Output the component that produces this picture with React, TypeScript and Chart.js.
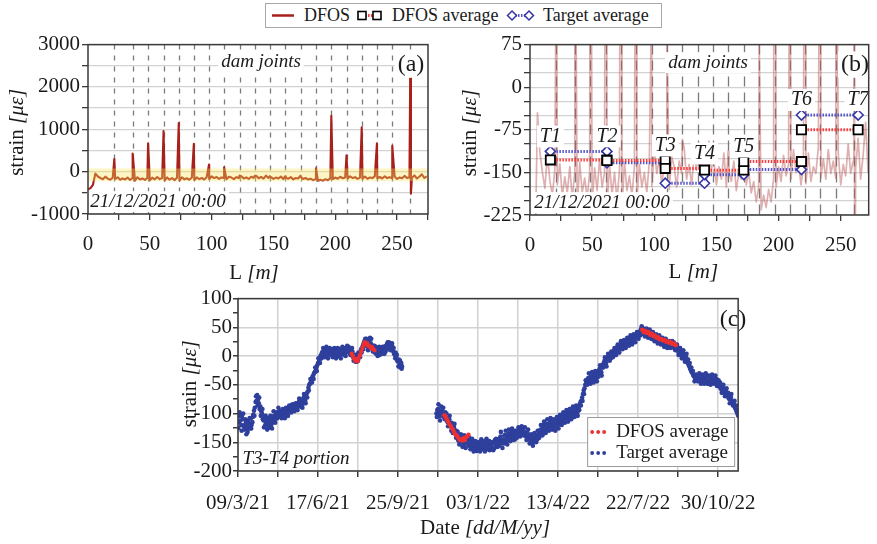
import React, { useEffect, useRef } from 'react';
import { Chart, registerables } from 'chart.js';

Chart.register(...registerables);

const SERIF = '"Liberation Serif", "Times New Roman", Times, serif';
const INK = '#1a1a1a';

// ---------------- Panels (a) and (b): DFOS strain profile along L [m] ----------------
const dfosProfile: [number, number][] = [
  [0, -420], [2, -390], [4, -310], [6, -45], [8, -115], [10, -150], [12, -178], [14, -118], [16, -165], [18, -190],
  [20, -145], [22, -172], [24, -135], [26, -192], [28, -158], [30, -186], [32, -140], [34, -196], [36, -150], [38, -212],
  [40, -132], [42, -186], [44, -160], [46, -195], [48, -150], [50, -205], [52, -142], [54, -182], [56, -126], [58, -176],
  [60, -150], [62, -210], [64, -136], [66, -190], [68, -150], [70, -200], [72, -145], [74, -215], [76, -132], [78, -182],
  [80, -156], [82, -192], [84, -140], [86, -198], [88, -136], [90, -176], [92, -150], [94, -186], [96, -130], [98, -175],
  [100, -110], [102, -152], [104, -126], [106, -172], [108, -136], [110, -150], [112, -180], [114, -122], [116, -140], [118, -176],
  [120, -130], [122, -152], [124, -106], [126, -162], [128, -136], [130, -172], [132, -120], [134, -146], [136, -98], [138, -156],
  [140, -126], [142, -166], [144, -95], [146, -150], [148, -130], [150, -172], [152, -140], [154, -162], [156, -116], [158, -176],
  [160, -146], [162, -166], [164, -130], [166, -182], [168, -150], [170, -162], [172, -120], [174, -172], [176, -150], [178, -186],
  [180, -166], [182, -202], [184, -176], [186, -216], [188, -190], [190, -212], [192, -180], [194, -202], [196, -160], [198, -176],
  [200, -140], [202, -166], [204, -120], [206, -156], [208, -136], [210, -162], [212, -110], [214, -150], [216, -130], [218, -172],
  [220, -140], [222, -170], [224, -116], [226, -166], [228, -140], [230, -152], [232, -105], [234, -160], [236, -126], [238, -162],
  [240, -110], [242, -152], [244, -130], [246, -160], [248, -116], [250, -172], [252, -136], [254, -156], [256, -100], [258, -152],
  [260, -130], [262, -142], [264, -90], [266, -162], [268, -120], [270, -62], [272, -150], [274, -110],
];
const dfosSpikes: [number, number][] = [
  [21.3, 300], [36.1, 430], [48.6, 670], [61.1, 960], [73.4, 1150], [85.6, 655], [97.9, 170], [110.1, 100],
  [122.6, -92], [134.8, -100], [147.1, -108], [159.4, -112], [171.9, -98], [184.4, 80], [196.8, 1320], [209.1, 385],
  [221.4, 1050], [233.7, 670], [246.1, 610], [260.6, 2290], [261.2, -520],
];
const jointL = [21.3, 36.1, 48.6, 61.1, 73.4, 85.6, 97.9, 110.1, 122.6, 134.8, 147.1, 159.4, 171.9, 184.4, 196.8, 209.1, 221.4, 233.7, 246.1, 260.6];

// Panel (b): targets and segment averages
const tNames = ['T1', 'T2', 'T3', 'T4', 'T5', 'T6', 'T7'];
const tPos = [16.4, 61.9, 108.8, 140.4, 172.0, 218.4, 264.0];
const dfosAvgStrain = [-128, -129, -143, -146, -131, -75];
const targetAvgStrain = [-113, -133, -169, -154, -145, -49];

// ---------------- Panel (c): T3-T4 portion time series ----------------
// [day after 09/3/21, reading at day, reading a day later, reading half a day later]
const dateTickDays = [0, 100, 200, 300, 400, 500, 600];
const dateTickLabels = ['09/3/21', '17/6/21', '25/9/21', '03/1/22', '13/4/22', '22/7/22', '30/10/22'];

const targetSeg1: [number, number, number, number][] = [
  [0, -105, -115, -125], [2, -98, -112, -104], [4, -120, -104, -130], [6, -110, -122, -100], [8, -128, -110, -120], [10, -115, -125, -136],
  [12, -132, -112, -122], [14, -118, -126, -108], [16, -108, -120, -126], [18, -115, -102, -106], [20, -95, -90, -104], [22, -80, -78, -70],
  [24, -68, -76, -86], [26, -82, -92, -72], [28, -88, -96, -104], [30, -100, -110, -92], [32, -112, -106, -124], [34, -120, -114, -104],
  [36, -108, -118, -128], [38, -125, -108, -116], [40, -112, -122, -104], [42, -118, -110, -126], [44, -105, -114, -96], [46, -110, -102, -116],
  [48, -98, -108, -108], [50, -104, -98, -90], [52, -95, -106, -100], [54, -102, -96, -108], [56, -92, -104, -98], [58, -100, -94, -108],
  [60, -90, -100, -98], [62, -96, -90, -104], [64, -86, -96, -92], [66, -92, -86, -98], [68, -84, -94, -90], [70, -90, -84, -96],
  [72, -82, -92, -88], [74, -88, -82, -94], [76, -80, -86, -74], [78, -76, -80, -88], [80, -84, -76, -90], [82, -72, -82, -66],
  [84, -78, -70, -82], [86, -65, -62, -72], [88, -55, -50, -60], [90, -48, -46, -40], [92, -40, -36, -46], [94, -34, -30, -40],
  [96, -28, -26, -20], [98, -20, -16, -26], [100, -12, -10, -4], [102, -6, 0, -12], [104, 2, 6, -4], [106, 8, 0, 14],
  [108, 4, 12, -2], [110, 10, 4, 16], [112, 2, 10, -4], [114, 8, 4, 14], [116, 12, 8, 2], [118, 4, 12, -2],
  [120, 8, 2, 14], [122, 0, 10, -4], [124, 6, 2, 14], [126, 12, 6, 0], [128, 3, 12, -4], [130, 9, 4, 16],
  [132, 14, 10, 2], [134, 6, 14, 0], [136, 12, 8, 18], [138, 16, 12, 6], [140, 8, 14, 2], [142, 4, 8, 14],
  [144, -2, 2, -8], [146, -6, -10, 2], [148, -3, 0, -10], [150, -8, -2, 6], [152, 4, 6, -2], [154, 12, 14, 6],
  [156, 18, 22, 12], [158, 26, 30, 18], [160, 20, 24, 30], [162, 16, 22, 10], [164, 28, 32, 20], [166, 22, 18, 30],
  [168, 14, 18, 8], [170, 10, 6, 18], [172, 16, 12, 4], [174, 6, 14, 0], [176, 10, 2, 16], [178, 4, 8, 14],
  [180, 12, 16, 4], [182, 8, 4, 16], [184, 14, 18, 8], [186, 20, 24, 14], [188, 16, 12, 24], [190, 22, 18, 10],
  [192, 12, 16, 22], [194, 8, 4, 14], [196, 2, 6, -4], [198, -4, -8, 2], [200, -10, -6, -18], [202, -16, -20, -8],
  [204, -12, -18, -22],
];
const targetSeg2: [number, number, number, number][] = [
  [248, -100, -94, -106], [250, -92, -100, -84], [252, -105, -96, -112], [254, -88, -95, -100], [256, -98, -106, -90], [258, -102, -98, -110],
  [260, -108, -112, -100], [262, -115, -108, -122], [264, -110, -118, -104], [266, -122, -116, -130], [268, -128, -122, -134], [270, -125, -132, -118],
  [272, -135, -130, -142], [274, -140, -146, -132], [276, -148, -140, -154], [278, -142, -150, -136], [280, -150, -144, -158], [282, -145, -154, -138],
  [284, -152, -146, -160], [286, -140, -150, -146], [288, -148, -142, -156], [290, -155, -148, -162], [292, -150, -158, -144], [294, -160, -152, -166],
  [296, -155, -162, -148], [298, -165, -158, -150], [300, -150, -156, -164], [302, -158, -150, -166], [304, -145, -152, -160], [306, -155, -162, -148],
  [308, -160, -154, -166], [310, -150, -158, -144], [312, -162, -155, -148], [314, -148, -156, -164], [316, -155, -150, -162], [318, -160, -164, -150],
  [320, -152, -146, -160], [322, -158, -152, -144], [324, -145, -152, -158], [326, -150, -144, -156], [328, -140, -148, -132], [330, -152, -146, -160],
  [332, -145, -138, -152], [334, -138, -146, -130], [336, -148, -140, -154], [338, -135, -142, -128], [340, -142, -136, -148], [342, -132, -140, -126],
  [344, -140, -134, -146], [346, -145, -138, -130], [348, -130, -136, -142], [350, -138, -131, -124], [352, -128, -134, -140], [354, -135, -128, -122],
  [356, -125, -132, -138], [358, -132, -138, -124], [360, -140, -134, -146], [362, -135, -142, -128], [364, -145, -140, -152], [366, -150, -144, -136],
  [368, -142, -150, -156], [370, -148, -141, -134], [372, -138, -145, -150], [374, -145, -138, -130], [376, -135, -130, -142], [378, -128, -136, -120],
  [380, -132, -125, -138], [382, -120, -127, -114], [384, -128, -121, -134], [386, -118, -124, -110], [388, -125, -118, -130], [390, -115, -121, -108],
  [392, -122, -115, -128], [394, -118, -124, -110], [396, -125, -117, -130], [398, -112, -119, -106], [400, -120, -113, -126], [402, -108, -115, -102],
  [404, -115, -108, -120], [406, -105, -112, -98], [408, -110, -103, -116], [410, -100, -107, -94], [412, -108, -101, -114], [414, -98, -104, -92],
  [416, -105, -98, -110], [418, -95, -102, -88], [420, -100, -94, -106], [422, -92, -99, -86], [424, -98, -90, -104], [426, -88, -84, -94],
  [428, -80, -78, -86], [430, -72, -66, -78], [432, -60, -56, -66], [434, -50, -48, -42], [436, -45, -40, -50], [438, -38, -44, -30],
  [440, -42, -36, -48], [442, -35, -42, -28], [444, -40, -34, -46], [446, -32, -39, -26], [448, -38, -32, -44], [450, -30, -25, -36],
  [452, -22, -29, -16], [454, -28, -20, -34], [456, -15, -12, -20], [458, -8, -14, -2], [460, -12, -5, -18], [462, -2, -6, 4],
  [464, 2, 0, -8], [466, -4, 4, 8], [468, 6, 2, -2], [470, 10, 4, 14], [472, 8, 14, 2], [474, 16, 10, 20],
  [476, 12, 18, 6], [478, 20, 14, 26], [480, 18, 24, 12], [482, 24, 18, 28], [484, 20, 26, 14], [486, 28, 22, 32],
  [488, 25, 31, 18], [490, 30, 24, 36], [492, 26, 32, 20], [494, 34, 28, 38], [496, 30, 36, 24], [498, 38, 32, 42],
  [500, 35, 40, 30], [502, 42, 45, 36], [504, 48, 43, 52], [506, 44, 38, 48], [508, 40, 46, 34], [510, 45, 40, 48],
  [512, 38, 44, 32], [514, 42, 36, 46], [516, 35, 40, 30], [518, 38, 32, 42], [520, 30, 36, 26], [522, 34, 28, 38],
  [524, 28, 33, 22], [526, 32, 26, 36], [528, 24, 30, 20], [530, 28, 22, 32], [532, 22, 27, 16], [534, 25, 20, 30],
  [536, 18, 24, 14], [538, 22, 17, 26], [540, 24, 19, 14], [542, 18, 23, 26], [544, 20, 14, 24], [546, 15, 18, 10],
  [548, 12, 16, 20], [550, 8, 12, 2], [552, 10, 4, 14], [554, 2, 7, -4], [556, 5, 0, 10], [558, -5, -1, -10],
  [560, -2, -8, 4], [562, -12, -15, -6], [564, -18, -22, -12], [566, -25, -28, -20], [568, -30, -34, -26], [570, -35, -38, -44],
  [572, -40, -36, -32], [574, -34, -40, -44], [576, -42, -36, -30], [578, -36, -42, -48], [580, -45, -40, -32], [582, -38, -44, -48],
  [584, -42, -36, -30], [586, -35, -43, -48], [588, -48, -42, -34], [590, -40, -46, -50], [592, -44, -38, -32], [594, -36, -42, -48],
  [596, -46, -40, -34], [598, -40, -45, -52], [600, -48, -50, -42], [602, -52, -56, -46], [604, -58, -54, -64], [606, -55, -60, -50],
  [608, -65, -60, -70], [610, -62, -68, -56], [612, -70, -73, -64], [614, -75, -70, -82], [616, -72, -78, -66], [618, -80, -84, -86],
  [620, -85, -90, -78], [622, -92, -96, -86], [624, -100, -104, -94],
];
const dfosAvgSeg1: [number, number][] = [
  [142, 4], [143.5, 0], [145, -4], [146.5, -8], [148, -6], [149.5, -9], [151, -3], [152.5, 2], [154, 8], [155.5, 14],
  [157, 20], [158.5, 24], [160, 20], [161.5, 22], [163, 18], [164.5, 17], [166, 14], [167.5, 16], [169, 12], [170.5, 10],
];
const dfosAvgSeg2: [number, number][] = [
  [258, -103], [259.5, -106], [261, -110], [262.5, -114], [264, -118], [265.5, -121], [267, -125], [268.5, -128], [270, -132], [271.5, -136],
  [273, -138], [274.5, -141], [276, -144], [277.5, -146], [279, -145], [280.5, -147], [282, -143], [283.5, -146], [285, -141], [286.5, -139], [288, -137],
];
const dfosAvgSeg3: [number, number][] = [
  [505, 46], [507, 42], [509, 44], [511, 40], [513, 42], [515, 37], [517, 39], [519, 35], [521, 36], [523, 32], [525, 33],
  [527, 29], [529, 30], [531, 27], [533, 28], [535, 25], [537, 26], [539, 23], [541, 24], [543, 21], [545, 22], [547, 19],
];

// ---------------- helpers ----------------
const toXY = (arr: [number, number][]) => arr.map(([x, y]) => ({ x, y }));
const dailyXY = (arr: [number, number, number, number][]) =>
  arr.flatMap(([d, a, b, c]) => [{ x: d, y: a }, { x: d + 0.5, y: c }, { x: d + 1, y: b }]);
const dfosPoints = () => toXY([...dfosProfile, ...dfosSpikes].sort((a, b) => a[0] - b[0]));

function segmentData(vals: number[]) {
  const out: { x: number; y: number | null }[] = [];
  vals.forEach((v, i) => {
    if (i > 0) out.push({ x: tPos[i], y: null });
    out.push({ x: tPos[i], y: v }, { x: tPos[i + 1], y: v });
  });
  return out;
}

type Txt = { text: string; cx: number; cy: number; size: number; italic?: boolean; box?: boolean };
type Part = [string, boolean];

function font(size: number, italic?: boolean) {
  return `${italic ? 'italic ' : ''}${size}px ${SERIF}`;
}

function drawText(ctx: CanvasRenderingContext2D, t: Txt, x: number, y: number) {
  ctx.save();
  ctx.font = font(t.size, t.italic);
  ctx.textAlign = 'center';
  ctx.textBaseline = 'middle';
  if (t.box) {
    const w = ctx.measureText(t.text).width;
    ctx.fillStyle = '#ffffff';
    ctx.fillRect(x - w / 2 - 3, y - t.size * 0.55, w + 6, t.size * 1.1);
  }
  ctx.fillStyle = INK;
  ctx.fillText(t.text, x, y);
  ctx.restore();
}

function drawTitle(ctx: CanvasRenderingContext2D, parts: Part[], cx: number, cy: number, size: number, vertical: boolean) {
  ctx.save();
  ctx.translate(cx, cy);
  if (vertical) ctx.rotate(-Math.PI / 2);
  ctx.textBaseline = 'middle';
  ctx.textAlign = 'left';
  const widths = parts.map(([s, it]) => {
    ctx.font = font(size, it);
    return ctx.measureText(s).width;
  });
  const total = widths.reduce((a, b) => a + b, 0);
  let x = -total / 2;
  parts.forEach(([s, it], i) => {
    ctx.font = font(size, it);
    ctx.fillStyle = INK;
    ctx.fillText(s, x, 0);
    x += widths[i];
  });
  ctx.restore();
}

interface PanelCfg {
  jointDash?: number[];
  band?: [number, number];
  texts: Txt[];
  yTitle: { parts: Part[]; dx: number; dy: number };
  xTitle: { parts: Part[]; dx: number; dy: number };
  tLabels?: boolean;
  legendC?: boolean;
}

function panelPlugin(cfg: PanelCfg) {
  return {
    id: 'panelDecor',
    beforeDatasetsDraw(chart: any) {
      if (!cfg.jointDash) return;
      const { ctx, chartArea: a } = chart;
      const xs = chart.scales.x;
      ctx.save();
      ctx.strokeStyle = '#7a7a7a';
      ctx.lineWidth = 1.3;
      ctx.setLineDash(cfg.jointDash);
      jointL.forEach((j) => {
        const x = Math.round(xs.getPixelForValue(j)) + 0.5;
        if (x < a.left || x > a.right) return;
        ctx.beginPath();
        ctx.moveTo(x, a.top);
        ctx.lineTo(x, a.bottom);
        ctx.stroke();
      });
      ctx.restore();
    },
    afterDatasetsDraw(chart: any) {
      const { ctx, chartArea: a } = chart;
      const xs = chart.scales.x;
      const ys = chart.scales.y;
      if (cfg.band) {
        const y1 = ys.getPixelForValue(cfg.band[1]);
        const y0 = ys.getPixelForValue(cfg.band[0]);
        ctx.save();
        ctx.fillStyle = 'rgba(250,228,90,0.36)';
        ctx.fillRect(a.left, y1, a.right - a.left, y0 - y1);
        ctx.restore();
      }
      cfg.texts.forEach((t) => drawText(ctx, t, a.left + t.cx, a.top + t.cy));
      if (cfg.tLabels) {
        tNames.forEach((name, i) => {
          const cands: number[] = [];
          if (i < dfosAvgStrain.length) cands.push(dfosAvgStrain[i], targetAvgStrain[i]);
          if (i > 0) cands.push(dfosAvgStrain[i - 1], targetAvgStrain[i - 1]);
          const top = Math.max(...cands);
          const x = xs.getPixelForValue(tPos[i]);
          const y = ys.getPixelForValue(top) - 15;
          drawText(ctx, { text: name, cx: 0, cy: 0, size: 20, italic: true, box: true }, x, y);
        });
      }
      if (cfg.legendC) {
        const L = a.right - 151;
        const T = a.bottom - 54;
        ctx.save();
        ctx.fillStyle = '#ffffff';
        ctx.fillRect(L, T, 147, 49);
        ctx.strokeStyle = '#9a9a9a';
        ctx.lineWidth = 1;
        ctx.strokeRect(L + 0.5, T + 0.5, 147, 49);
        const rows: [string, string, number][] = [
          ['DFOS average', '#ee3030', 15],
          ['Target average', '#2e3f9c', 36],
        ];
        rows.forEach(([label, col, dy]) => {
          ctx.fillStyle = col;
          [4, 10, 16].forEach((dx) => {
            ctx.beginPath();
            ctx.arc(L + dx + 1, T + dy, 1.9, 0, Math.PI * 2);
            ctx.fill();
          });
          ctx.fillStyle = INK;
          ctx.font = font(19);
          ctx.textAlign = 'left';
          ctx.textBaseline = 'middle';
          ctx.fillText(label, L + 29, T + dy);
        });
        ctx.restore();
      }
    },
    afterDraw(chart: any) {
      const { ctx, chartArea: a } = chart;
      ctx.save();
      ctx.strokeStyle = '#3a3a3a';
      ctx.lineWidth = 1.5;
      ctx.strokeRect(a.left, a.top, a.right - a.left, a.bottom - a.top);
      ctx.restore();
      const cx = (a.left + a.right) / 2;
      const cy = (a.top + a.bottom) / 2;
      drawTitle(ctx, cfg.yTitle.parts, a.left + cfg.yTitle.dx, cy + cfg.yTitle.dy, 21, true);
      drawTitle(ctx, cfg.xTitle.parts, cx + cfg.xTitle.dx, a.bottom + cfg.xTitle.dy, 21, false);
    },
  };
}

const tickFont = { family: SERIF, size: 21 };
const strainTitle: Part[] = [['strain ', false], ['[\u03bc\u03b5]', true]];
const lTitle: Part[] = [['L ', false], ['[m]', true]];

function lAxis(max: number, height: number, padding: number) {
  return {
    type: 'linear',
    min: 0,
    max,
    afterFit: (s: any) => { s.height = height; },
    border: { display: false },
    grid: { drawOnChartArea: false, color: '#3a3a3a', tickLength: 6, lineWidth: 1.3 },
    ticks: {
      stepSize: 25,
      includeBounds: false,
      autoSkip: false,
      maxRotation: 0,
      minRotation: 0,
      padding,
      font: tickFont,
      color: INK,
      callback: (v: number) => (v % 50 === 0 ? String(v) : ''),
    },
  };
}

function configA(): any {
  return {
    type: 'line',
    data: {
      datasets: [
        { data: dfosPoints(), borderColor: '#a8201a', borderWidth: 2.1, pointRadius: 0, borderJoinStyle: 'round', tension: 0 },
      ],
    },
    options: {
      animation: false,
      responsive: false,
      devicePixelRatio: 1,
      layout: { padding: { top: 14, right: 7, left: 0, bottom: 0 } },
      plugins: { legend: { display: false }, tooltip: { enabled: false } },
      scales: {
        x: lAxis(275, 78, 12),
        y: {
          min: -1000,
          max: 3000,
          afterFit: (s: any) => { s.width = 88; },
          border: { display: false },
          grid: { color: '#d2d2d2', tickColor: '#3a3a3a', tickLength: 6, lineWidth: 1.3 },
          ticks: { stepSize: 500, padding: 2, font: tickFont, color: INK, autoSkip: false, callback: (v: number) => (v % 1000 === 0 ? String(v) : '') },
        },
      },
    },
    plugins: [
      panelPlugin({
        jointDash: [5, 6],
        band: [-225, 75],
        texts: [
          { text: 'dam joints', cx: 173, cy: 17, size: 19, italic: true, box: true },
          { text: '(a)', cx: 323, cy: 20, size: 24, box: true },
          { text: '21/12/2021 00:00', cx: 70, cy: 157, size: 19, italic: true, box: true },
        ],
        yTitle: { parts: strainTitle, dx: -71, dy: 3 },
        xTitle: { parts: lTitle, dx: -4, dy: 59 },
      }),
    ],
  };
}

function configB(): any {
  return {
    type: 'line',
    data: {
      datasets: [
        {
          data: segmentData(dfosAvgStrain),
          borderColor: '#ff3a3a',
          borderWidth: 3,
          borderDash: [1.5, 1.5],
          pointStyle: 'rect',
          pointRadius: 6.5,
          pointBorderColor: '#000000',
          pointBackgroundColor: '#ffffff',
          pointBorderWidth: 1.8,
          spanGaps: false,
        },
        {
          data: segmentData(targetAvgStrain),
          borderColor: '#5656cc',
          borderWidth: 3,
          borderDash: [1.5, 1.5],
          pointStyle: 'rectRot',
          pointRadius: 5,
          pointBorderColor: '#3535a8',
          pointBackgroundColor: '#ffffff',
          pointBorderWidth: 1.6,
          spanGaps: false,
        },
        { data: dfosPoints(), borderColor: 'rgba(185,90,90,0.48)', borderWidth: 1.7, pointRadius: 0, borderJoinStyle: 'round', tension: 0 },
      ],
    },
    options: {
      animation: false,
      responsive: false,
      devicePixelRatio: 1,
      layout: { padding: { top: 13, right: 2, left: 0, bottom: 0 } },
      plugins: { legend: { display: false }, tooltip: { enabled: false } },
      scales: {
        x: lAxis(272.5, 77, 12),
        y: {
          min: -225,
          max: 75,
          afterFit: (s: any) => { s.width = 90; },
          border: { display: false },
          grid: { color: '#d2d2d2', tickColor: '#3a3a3a', tickLength: 6, lineWidth: 1.3 },
          ticks: { stepSize: 25, padding: 2, font: tickFont, color: INK, autoSkip: false, callback: (v: number) => (v % 75 === 0 ? String(v) : '') },
        },
      },
    },
    plugins: [
      panelPlugin({
        jointDash: [10, 6],
        texts: [
          { text: 'dam joints', cx: 178, cy: 18, size: 19, italic: true, box: true },
          { text: '(b)', cx: 325, cy: 20, size: 24, box: true },
          { text: '21/12/2021 00:00', cx: 72, cy: 158, size: 19, italic: true, box: true },
        ],
        yTitle: { parts: strainTitle, dx: -60, dy: 3 },
        xTitle: { parts: lTitle, dx: -6, dy: 57 },
        tLabels: true,
      }),
    ],
  };
}

function configC(): any {
  return {
    type: 'scatter',
    data: {
      datasets: [
        { data: toXY([...dfosAvgSeg1, ...dfosAvgSeg2, ...dfosAvgSeg3]), backgroundColor: '#ee3030', pointRadius: 2.2, pointBorderWidth: 0 },
        { data: [...dailyXY(targetSeg1), ...dailyXY(targetSeg2)], backgroundColor: '#2e3f9c', pointRadius: 2.3, pointBorderWidth: 0 },
      ],
    },
    options: {
      animation: false,
      responsive: false,
      devicePixelRatio: 1,
      layout: { padding: { top: 12, right: 13, left: 0, bottom: 0 } },
      plugins: { legend: { display: false }, tooltip: { enabled: false } },
      scales: {
        x: {
          type: 'linear',
          min: 0,
          max: 625,
          afterFit: (s: any) => { s.height = 73; },
          border: { display: false },
          grid: { color: '#d2d2d2', tickColor: '#3a3a3a', tickLength: 6, lineWidth: 1.5 },
          ticks: {
            stepSize: 50,
            includeBounds: false,
            autoSkip: false,
            maxRotation: 0,
            minRotation: 0,
            padding: 14,
            font: tickFont,
            color: INK,
            callback: (v: number) => {
              const i = dateTickDays.indexOf(v);
              return i >= 0 ? dateTickLabels[i] : '';
            },
          },
        },
        y: {
          min: -200,
          max: 100,
          afterFit: (s: any) => { s.width = 88; },
          border: { display: false },
          grid: {
            color: (c: any) => (c.tick && c.tick.value % 50 === 0 ? '#d2d2d2' : 'rgba(0,0,0,0)'),
            tickColor: '#3a3a3a',
            tickLength: 5,
            lineWidth: 1.5,
          },
          ticks: { stepSize: 25, padding: 1, font: tickFont, color: INK, autoSkip: false, callback: (v: number) => (v % 50 === 0 ? String(v) : '') },
        },
      },
    },
    plugins: [
      panelPlugin({
        texts: [
          { text: '(c)', cx: 495, cy: 21, size: 24 },
          { text: 'T3-T4 portion', cx: 58, cy: 160, size: 19, italic: true },
        ],
        yTitle: { parts: strainTitle, dx: -48, dy: -1 },
        xTitle: { parts: [['Date ', false], ['[dd/M/yy]', true]], dx: -3, dy: 57 },
        legendC: true,
      }),
    ],
  };
}

function TopLegend() {
  const txt: React.CSSProperties = {
    position: 'absolute',
    top: 0,
    fontFamily: SERIF,
    fontSize: 18,
    lineHeight: '23px',
    color: INK,
    whiteSpace: 'nowrap',
  };
  const diamond = (cx: number, cy: number) => `${cx},${cy - 4.5} ${cx + 4.5},${cy} ${cx},${cy + 4.5} ${cx - 4.5},${cy}`;
  return (
    <div style={{ position: 'absolute', left: 265, top: 3, width: 395, height: 23, border: '1px solid #a8a8a8', background: '#fff' }}>
      <svg style={{ position: 'absolute', left: 0, top: 0 }} width={395} height={23}>
        <line x1={6} y1={11.5} x2={28} y2={11.5} stroke="#a8201a" strokeWidth={2.5} />
        <line x1={96} y1={11.5} x2={111} y2={11.5} stroke="#ff3a3a" strokeWidth={3} strokeDasharray="1.5 1.5" />
        <rect x={92} y={7.5} width={8} height={8} fill="#fff" stroke="#000" strokeWidth={1.6} />
        <rect x={107} y={7.5} width={8} height={8} fill="#fff" stroke="#000" strokeWidth={1.6} />
        <line x1={246} y1={11.5} x2={263} y2={11.5} stroke="#5656cc" strokeWidth={3} strokeDasharray="1.5 1.5" />
        <polygon points={diamond(246, 11.5)} fill="#fff" stroke="#3535a8" strokeWidth={1.5} />
        <polygon points={diamond(263, 11.5)} fill="#fff" stroke="#3535a8" strokeWidth={1.5} />
      </svg>
      <span style={{ ...txt, left: 38 }}>DFOS</span>
      <span style={{ ...txt, left: 126 }}>DFOS average</span>
      <span style={{ ...txt, left: 277 }}>Target average</span>
    </div>
  );
}

export default function App() {
  const refA = useRef<HTMLCanvasElement>(null);
  const refB = useRef<HTMLCanvasElement>(null);
  const refC = useRef<HTMLCanvasElement>(null);

  useEffect(() => {
    Chart.defaults.font.family = SERIF;
    const charts = [
      new Chart(refA.current as HTMLCanvasElement, configA()),
      new Chart(refB.current as HTMLCanvasElement, configB()),
      new Chart(refC.current as HTMLCanvasElement, configC()),
    ];
    return () => charts.forEach((c) => c.destroy());
  }, []);

  return (
    <div style={{ position: 'fixed', left: 0, top: 0, width: 877, height: 544, background: '#ffffff', overflow: 'hidden' }}>
      <canvas ref={refA} width={440} height={262} style={{ position: 'absolute', left: 0, top: 30 }} />
      <canvas ref={refB} width={437} height={262} style={{ position: 'absolute', left: 440, top: 30 }} />
      <canvas ref={refC} width={620} height={259} style={{ position: 'absolute', left: 150, top: 285 }} />
      <TopLegend />
    </div>
  );
}
